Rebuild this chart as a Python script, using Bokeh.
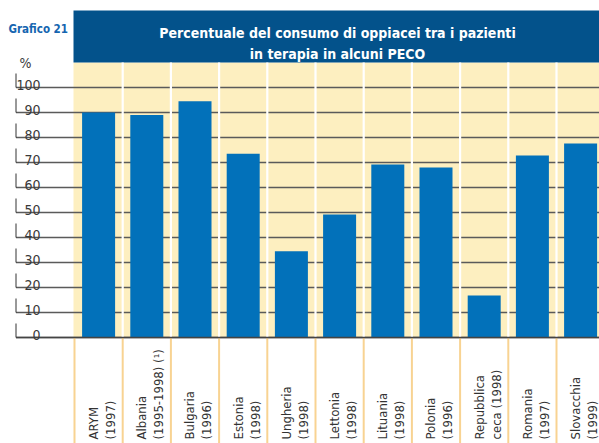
import math
from bokeh.plotting import figure
from bokeh.models import Range1d, ColumnDataSource
from bokeh.core.properties import value
from bokeh.embed import file_html
from bokeh.resources import INLINE

# ---- data ----
countries = ["ARYM", "Albania", "Bulgaria", "Estonia", "Ungheria", "Lettonia",
             "Lituania", "Polonia", "Repubblica", "Romania", "Slovacchia"]
years = ["(1997)", "(1995-1998) (¹)", "(1996)", "(1998)", "(1998)", "(1998)",
         "(1998)", "(1996)", "ceca (1998)", "(1997)", "(1999)"]
percent = [90, 89, 94.5, 73.5, 34.5, 49.2, 69.2, 68, 16.8, 72.8, 77.6]
y_ticks = [0, 10, 20, 30, 40, 50, 60, 70, 80, 90, 100]
title_lines = ["Percentuale del consumo di oppiacei tra i pazienti",
               "in terapia in alcuni PECO"]
chart_label = "Grafico 21"
unit_label = "%"

FONT = "DejaVu Sans Condensed"
n = len(countries)

# ---- layout helpers (page pixel -> data) ----
X0, CW = 74.0, 48.2   # page x of first category, category width in px
Y0, PU = 337.0, 2.5   # page y of zero, px per unit

def dx(px):
    return (px - X0) / CW

def dy(py):
    return (Y0 - py) / PU

W, H = 599, 443
p = figure(width=W, height=H, output_backend="svg", toolbar_location=None,
           x_range=Range1d(dx(0), dx(W)), y_range=Range1d(dy(H), dy(0)),
           min_border=0, outline_line_color=None)
p.axis.visible = False
p.grid.visible = False
p.background_fill_color = "white"
p.border_fill_color = "white"

top_plot = dy(62)
right = n + 0.5

# yellow plot area
p.quad(left=[dx(73)], right=[right], bottom=[0], top=[top_plot],
       fill_color="#FDEFC0", line_color=None)
# title bar
p.quad(left=[dx(73)], right=[right], bottom=[top_plot], top=[dy(10)],
       fill_color="#03528B", line_color=None)

# horizontal grid lines
xl = dx(15.5)
p.segment(x0=[xl] * len(y_ticks), y0=y_ticks, x1=[right] * len(y_ticks), y1=y_ticks,
          line_color="#5a5a5a", line_width=1.7)
# small left ticks
p.segment(x0=[xl] * len(y_ticks), y0=y_ticks, x1=[xl] * len(y_ticks),
          y1=[t + 14 / PU for t in y_ticks], line_color="#333333", line_width=1)

# white separators in plot area
seps = list(range(1, n))
p.segment(x0=seps, y0=[0] * len(seps), x1=seps, y1=[top_plot] * len(seps),
          line_color="white", line_width=2.2)
# orange separators under axis
oseps = list(range(0, n + 1))
p.segment(x0=oseps, y0=[0] * len(oseps), x1=oseps, y1=[dy(H)] * len(oseps),
          line_color="#F8D392", line_width=2)

# bars
src = ColumnDataSource(dict(x=[i + 0.5 for i in range(n)], top=percent))
p.vbar(x="x", top="top", width=33 / CW, bottom=0, source=src,
       fill_color="#0271BA", line_color=None)

# zero line on top
p.segment(x0=[xl], y0=[0], x1=[right], y1=[0], line_color="#444444", line_width=1.7)

# tick labels
p.text(x=[dx(40)] * len(y_ticks), y=[t + 3 / PU for t in y_ticks],
       text=[str(t) for t in y_ticks], text_align="right", text_baseline="alphabetic",
       text_font=value(FONT), text_font_size="14px", text_color="#3a3a3a")
p.text(x=[dx(25)], y=[dy(62)], text=[unit_label], text_align="center",
       text_baseline="alphabetic", text_font=value(FONT), text_font_size="14px",
       text_color="#3a3a3a")

# "Grafico 21"
p.text(x=[dx(8)], y=[dy(28)], text=[chart_label], text_align="left",
       text_baseline="alphabetic", text_font=value(FONT), text_font_style="bold",
       text_font_size="11.5px", text_color="#1565B0")

# title
p.text(x=[dx(337)] * 2, y=[dy(32), dy(53.3)], text=title_lines, text_align="center",
       text_baseline="alphabetic", text_font=value(FONT), text_font_style="bold",
       text_font_size="14px", text_color="white")

# category labels (rotated)
ybot = dy(439)
p.text(x=[i + 19 / CW for i in range(n)], y=[ybot] * n, text=countries,
       angle=math.pi / 2, text_align="left", text_baseline="alphabetic",
       text_font=value(FONT), text_font_size="13px", text_color="#333333")
p.text(x=[i + 36 / CW for i in range(n)], y=[ybot] * n, text=years,
       angle=math.pi / 2, text_align="left", text_baseline="alphabetic",
       text_font=value(FONT), text_font_size="13px", text_color="#333333")

open("out.html", "w").write(file_html(p, INLINE))
